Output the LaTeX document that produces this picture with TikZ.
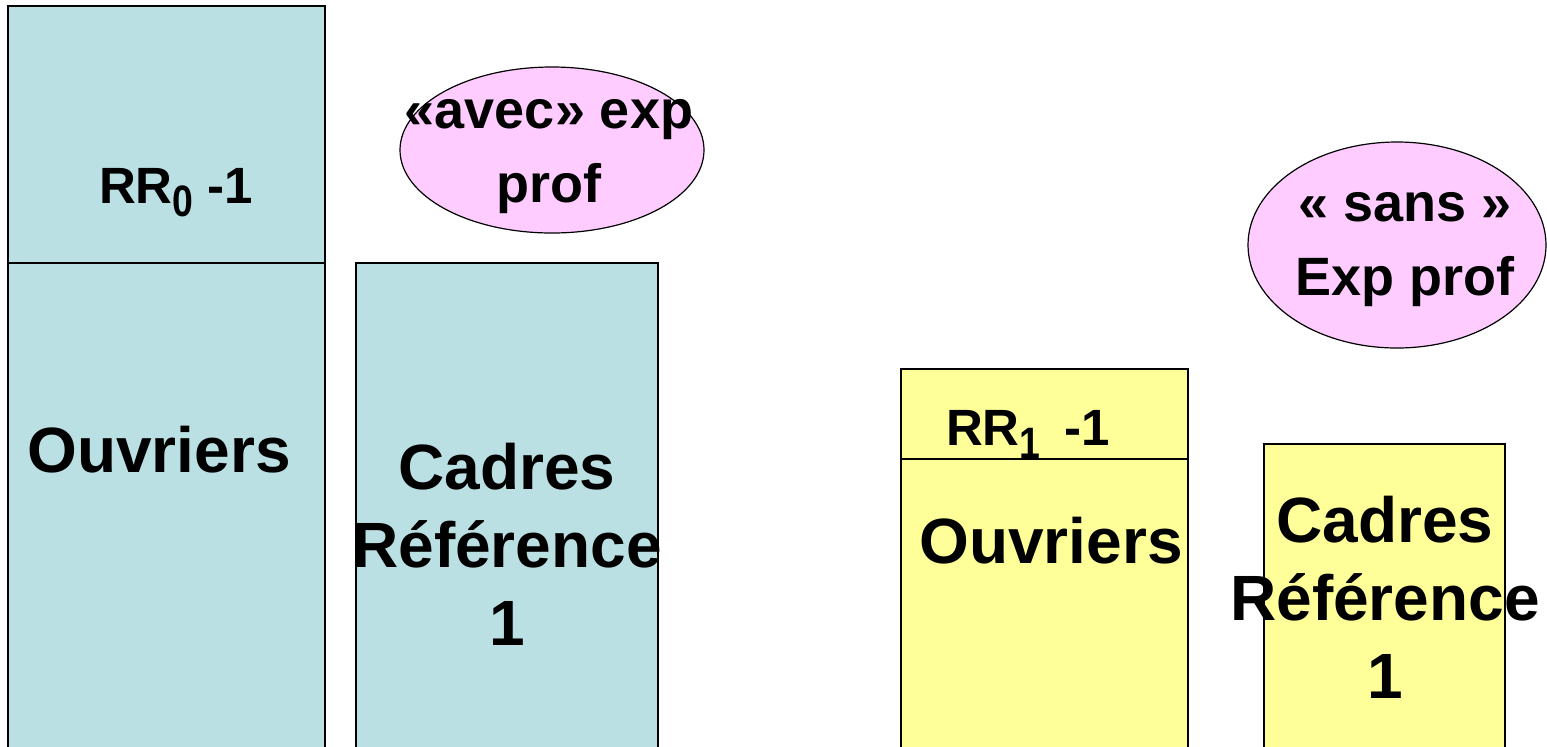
\documentclass[tikz,border=0pt]{standalone}
\usepackage{fontspec}
\setmainfont{Liberation Sans}
\usetikzlibrary{shapes.geometric,positioning}
\definecolor{bleu}{HTML}{BBE0E3}
\definecolor{jaune}{HTML}{FFFF99}
\definecolor{rose}{HTML}{FFCCFF}
\tikzstyle{colbleu} = [draw=black, line width=0.6pt, fill=bleu]
\tikzstyle{coljaune} = [draw=black, line width=0.6pt, fill=jaune]
\tikzstyle{bulle} = [ellipse, draw=black, line width=0.6pt, fill=rose, inner sep=0pt]
\tikzstyle{bulletexte} = [align=center, inner sep=0pt, font=\bfseries\fontsize{27}{37}\selectfont]
\tikzstyle{grand} = [align=center, font=\bfseries\fontsize{32}{39}\selectfont, inner sep=0pt]
\tikzstyle{petit} = [font=\bfseries\fontsize{25.5}{29}\selectfont, inner sep=0pt, anchor=base]
\newcommand{\indice}[1]{\raisebox{-6.5pt}{\scalebox{0.85}[1]{\bfseries\fontsize{22}{22}\selectfont #1}}}

\begin{document}
\begin{tikzpicture}[x=0.5pt,y=-0.5pt]
\useasboundingbox (0,0) rectangle (1547,746);
\clip (0,0) rectangle (1547,746);
% avec experience professionnelle
\draw [colbleu] (8,6) rectangle (325,790);
\draw [colbleu] (8,263) -- (325,263);
\draw [colbleu] (356,263) rectangle (658,790);
\node (rr0) [petit] at (176,203) {RR\indice{0}\ -1};
\node (ouv0) [grand] at (159,450) {Ouvriers};
\node (cad0) [grand] at (507,544) {Cadres\\Référence\\1};
\node (avec) [bulle, minimum width=152pt, minimum height=83pt] at (552,150) {};
\node (avectxt) [bulletexte] at (549,157) {«avec» exp\\prof};
%
% sans experience professionnelle
\draw [coljaune] (901,369) rectangle (1188,790);
\draw [coljaune] (901,459) -- (1188,459);
\draw [coljaune] (1264,444) rectangle (1505,790);
\node (rr1) [petit] at (1028,445) {RR\indice{1}\hspace{5pt} -1};
\node (ouv1) [grand] at (1051,541) {Ouvriers};
\node (cad1) [grand] at (1385,597) {Cadres\\Référence\\1};
\node (sans) [bulle, minimum width=149pt, minimum height=103pt] at (1397,245) {};
\node (sanstxt) [bulletexte] at (1405,250) {« sans »\\Exp prof};

\end{tikzpicture}
\end{document}
